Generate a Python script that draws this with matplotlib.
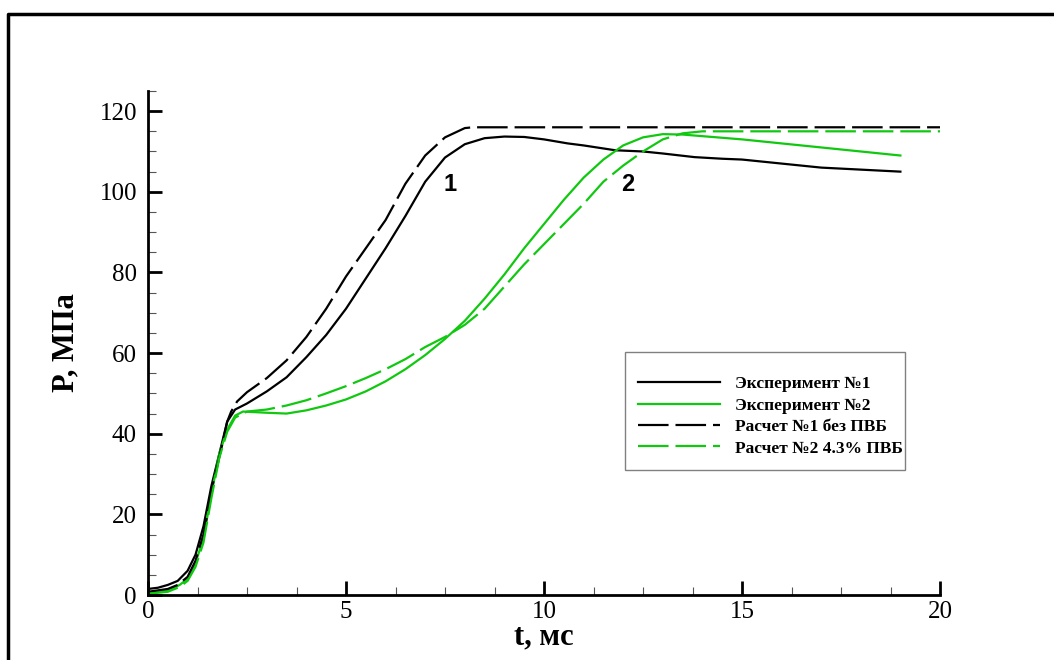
import matplotlib.pyplot as plt
from matplotlib.lines import Line2D
from matplotlib.patches import Rectangle
from matplotlib.ticker import MultipleLocator

plt.rcParams['font.family'] = ['Liberation Serif', 'DejaVu Serif']
plt.rcParams['lines.scale_dashes'] = False

# Эксперимент №1
t_exp1 = [0, 0.25, 0.5, 0.75, 1.0, 1.2, 1.4, 1.5, 1.6, 1.75, 1.9, 2.0, 2.2, 2.5, 3.0, 3.5, 4.0,
          4.5, 5.0, 5.5, 6.0, 6.5, 7.0, 7.5, 8.0, 8.5, 9.0, 9.5, 10.0, 10.6, 11.0, 11.8,
          12.5, 13.0, 13.8, 14.5, 15.0, 16.0, 17.0, 18.0, 19.0]
p_exp1 = [1.5, 1.8, 2.5, 3.5, 6.0, 10.0, 17.0, 22.0, 27.0, 33.0, 39.0, 43.0, 46.0, 47.5, 50.5, 54.0, 59.0,
          64.5, 71.0, 78.5, 86.0, 94.0, 102.5, 108.5, 111.8, 113.3, 113.7, 113.6, 113.0, 112.0, 111.5, 110.3,
          110.0, 109.5, 108.6, 108.2, 108.0, 107.0, 106.0, 105.5, 105.0]

# Эксперимент №2
t_exp2 = [0, 0.5, 0.8, 1.0, 1.2, 1.4, 1.6, 1.8, 2.0, 2.2, 2.4, 3.0, 3.5, 4.0, 4.5, 5.0, 5.5, 6.0,
          6.5, 7.0, 7.5, 8.0, 8.5, 9.0, 9.5, 10.0, 10.5, 11.0, 11.5, 12.0, 12.5, 13.0, 13.5,
          14.0, 15.0, 16.0, 17.0, 18.0, 19.0]
p_exp2 = [0.5, 1.0, 2.5, 4.0, 8.0, 14.0, 25.0, 35.0, 41.0, 44.5, 45.5, 45.2, 45.0, 45.8, 47.0, 48.5, 50.5, 53.0,
          56.0, 59.5, 63.5, 68.0, 73.5, 79.5, 86.0, 92.0, 98.0, 103.5, 108.0, 111.5, 113.5, 114.3, 114.2,
          113.8, 113.0, 112.0, 111.0, 110.0, 109.0]

# Расчет №1 без ПВБ
t_calc1 = [0, 0.5, 0.75, 1.0, 1.2, 1.4, 1.5, 1.6, 1.75, 1.9, 2.0, 2.1, 2.25, 2.5, 3.0, 3.5, 4.0, 4.5, 5.0,
           5.5, 6.0, 6.5, 7.0, 7.5, 8.0, 8.2, 10.0, 15.0, 20.0]
p_calc1 = [0.8, 1.5, 2.5, 4.5, 8.5, 15.0, 20.0, 26.0, 32.0, 38.5, 43.0, 45.5, 48.0, 50.3, 53.8, 58.2, 64.0, 71.0, 79.0,
           86.0, 93.0, 102.0, 109.0, 113.5, 115.8, 116.0, 116.0, 116.0, 116.0]

# Расчет №2 4.3% ПВБ
t_calc2 = [0, 0.5, 0.8, 1.0, 1.2, 1.4, 1.6, 1.8, 2.0, 2.2, 2.5, 3.0, 3.5, 4.0, 4.5, 5.0, 5.5, 6.0,
           6.5, 7.0, 7.5, 8.0, 8.5, 9.0, 9.5, 10.0, 10.5, 11.0, 11.5, 12.0, 12.5, 13.0, 13.5,
           14.0, 15.0, 17.0, 20.0]
p_calc2 = [0.3, 0.8, 2.0, 3.5, 7.0, 13.0, 24.0, 34.0, 40.5, 44.0, 45.5, 46.0, 47.0, 48.3, 50.0, 51.8, 53.8, 56.0,
           58.5, 61.5, 64.0, 67.0, 71.0, 76.5, 82.0, 87.0, 92.0, 97.0, 102.5, 106.5, 110.0, 113.0, 114.5,
           115.0, 115.0, 115.0, 115.0]

labels = ['Эксперимент №1', 'Эксперимент №2', 'Расчет №1 без ПВБ', 'Расчет №2 4.3% ПВБ']
green = '#10c810'

fig = plt.figure(figsize=(10.54, 6.6), dpi=100)
ax = fig.add_axes([148 / 1054, 1 - 595 / 660, 792 / 1054, 504 / 660])

ax.plot(t_exp1, p_exp1, color='black', lw=1.6, label=labels[0])
ax.plot(t_exp2, p_exp2, color=green, lw=1.6, label=labels[1])
ax.plot(t_calc1, p_calc1, color='black', lw=1.6, dashes=(22, 5), label=labels[2])
ax.plot(t_calc2, p_calc2, color=green, lw=1.6, dashes=(22, 5), label=labels[3])

ax.set_xlim(0, 20)
ax.set_ylim(0, 125)
ax.xaxis.set_major_locator(MultipleLocator(5))
ax.xaxis.set_minor_locator(MultipleLocator(1.25))
ax.yaxis.set_major_locator(MultipleLocator(20))
ax.yaxis.set_minor_locator(MultipleLocator(5))
ax.spines['top'].set_visible(False)
ax.spines['right'].set_visible(False)
for s in ['left', 'bottom']:
    ax.spines[s].set_linewidth(2)
ax.tick_params(which='major', direction='in', length=10, width=2, labelsize=18)
ax.tick_params(which='minor', direction='in', length=6, width=0.8, color='#555555')
ax.tick_params(axis='y', which='major', pad=8)
ax.tick_params(axis='x', which='major', pad=4)

ax.set_xlabel('t, мс', fontsize=22, fontweight='bold', labelpad=0)
ax.set_ylabel('P, МПа', fontsize=22, fontweight='bold', labelpad=14)

ax.text(7.63, 101.7, '1', fontsize=17, fontweight='bold', family='Liberation Sans',
        ha='center', va='center')
ax.text(12.12, 101.7, '2', fontsize=17, fontweight='bold', family='Liberation Sans',
        ha='center', va='center')

ax.add_patch(Rectangle((0.602, 0.248), 0.354, 0.234, transform=ax.transAxes,
                       fill=False, edgecolor='#808080', lw=1))
ax.legend(loc='upper left', bbox_to_anchor=(0.619, 0.434), frameon=False,
          prop={'size': 12.5, 'weight': 'bold'}, handlelength=4.7, handletextpad=0.86,
          labelspacing=0.3, borderpad=0, borderaxespad=0)

# outer frame (top and left edges)
fig.add_artist(Line2D([8 / 1054, 8 / 1054, 1.0], [0.0, 1 - 14 / 660, 1 - 14 / 660],
                      transform=fig.transFigure, color='black', lw=2.5))

fig.savefig('out.png', dpi=100)
